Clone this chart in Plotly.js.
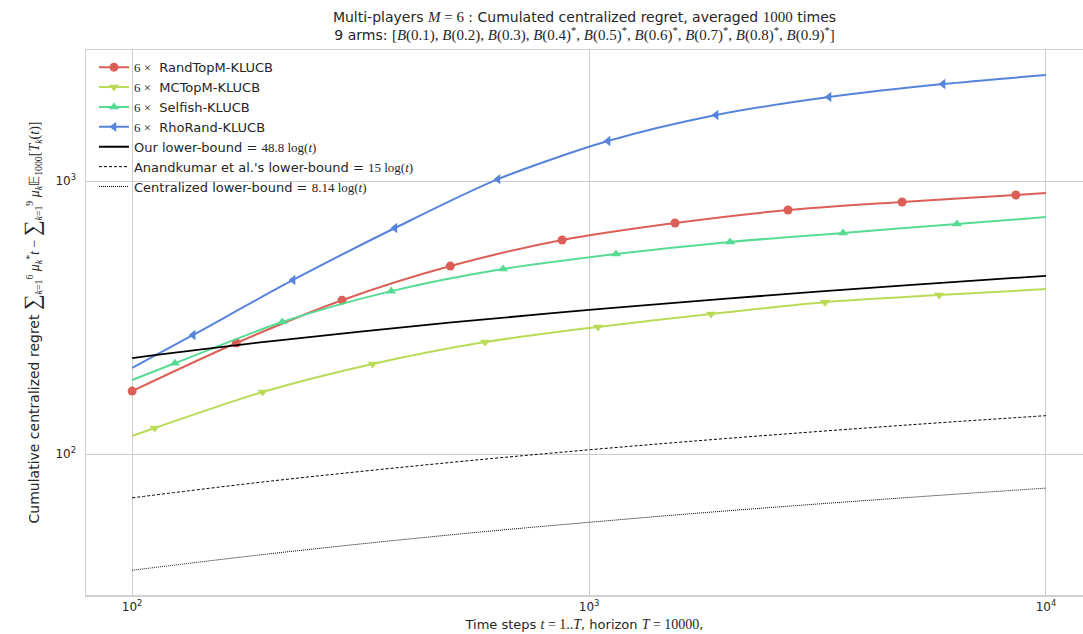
<!DOCTYPE html>
<html>
<head>
<meta charset="utf-8">
<script src="https://cdn.plot.ly/plotly-3.0.1.min.js"></script>
<style>html,body{margin:0;padding:0;background:#fff;}</style>
</head>
<body>
<div id="chart" style="width:1083px;height:634px;"></div>
<script>
// ---- data ----
// RandTopM-KLUCB
const tRand = [100, 169, 288, 497, 873, 1542, 2725, 4842, 8590, 10000];
const vRand = [170, 255, 366, 488, 608, 702, 783, 838, 889, 904];
const mRand = [0, 1, 2, 3, 4, 5, 6, 7, 8];
// MCTopM-KLUCB
const tMC = [100, 112, 193, 336, 592, 1046, 1849, 3284, 5837, 10000];
const vMC = [116.4, 124.5, 168.7, 213.7, 257, 292, 326, 360, 382, 402];
const mMC = [1, 2, 3, 4, 5, 6, 7, 8];
// Selfish-KLUCB
const tSelf = [100, 124, 213, 369, 648, 1145, 2035, 3596, 6383, 10000];
const vSelf = [186.6, 215, 304.5, 395, 476, 540, 598, 645, 696, 738];
const mSelf = [1, 2, 3, 4, 5, 6, 7, 8];
// RhoRand-KLUCB
const tRho = [100, 136, 225, 376, 632, 1100, 1897, 3351, 5953, 10000];
const vRho = [206.6, 273, 434, 673, 1016, 1401, 1745, 2031, 2266, 2444];
const mRho = [1, 2, 3, 4, 5, 6, 7, 8];
// lower bounds
const tBound = [100, 200, 500, 1000, 2000, 5000, 10000];
const vOurs = [224.7, 258.6, 303.3, 337.1, 370.9, 415.6, 449.5];
const vAnand = [69.1, 79.5, 93.2, 103.6, 114.0, 127.8, 138.2];
const vCentral = [37.5, 43.1, 50.6, 56.2, 61.9, 69.3, 75.0];

const xTickVals = [100, 1000, 10000];
const xTickText = ['10<sup>2</sup>', '10<sup>3</sup>', '10<sup>4</sup>'];
const yTickVals = [100, 1000];
const yTickText = ['10<sup>2</sup>', '10<sup>3</sup>'];

const names = ['RandTopM-KLUCB', 'MCTopM-KLUCB', 'Selfish-KLUCB', 'RhoRand-KLUCB'];
// ------------------------------------------------

const SERIF = "font-family:'Liberation Serif',serif";
const S = (s) => `<span style="${SERIF}">${s}</span>`;
const SB = (s, px) => `<span style="${SERIF};font-size:${px}px">${s}</span>`;

const series = [
  {t: tRand, v: vRand, m: mRand, color: '#db5f57', symbol: 'circle', size: 9},
  {t: tMC, v: vMC, m: mMC, color: '#b9db57', symbol: 'triangle-down', size: 9},
  {t: tSelf, v: vSelf, m: mSelf, color: '#57db94', symbol: 'triangle-up', size: 9},
  {t: tRho, v: vRho, m: mRho, color: '#5784db', symbol: 'triangle-left', size: 9}
];

const traces = [];
series.forEach((s, i) => {
  traces.push({
    x: s.t, y: s.v, type: 'scatter', mode: 'lines',
    line: {color: s.color, width: 2, shape: 'spline', smoothing: 0.8},
    showlegend: false, hoverinfo: 'skip', legendgroup: 'g' + i
  });
  traces.push({
    x: s.m.map(k => s.t[k]), y: s.m.map(k => s.v[k]), type: 'scatter', mode: 'markers',
    marker: {color: s.color, symbol: s.symbol, size: s.size, line: {width: 0}},
    showlegend: false, hoverinfo: 'skip', legendgroup: 'g' + i
  });
  traces.push({
    x: [null], y: [null], type: 'scatter', mode: 'lines+markers',
    line: {color: s.color, width: 2},
    marker: {color: s.color, symbol: s.symbol, size: s.size, line: {width: 0}},
    name: SB('6 ×', 13) + '  ' + names[i], legendgroup: 'g' + i
  });
});

traces.push({
  x: tBound, y: vOurs, type: 'scatter', mode: 'lines',
  line: {color: '#000000', width: 1.8, shape: 'spline'},
  name: 'Our lower-bound = ' + SB('48.8 log(<i>t</i>)', 13)
});
traces.push({
  x: tBound, y: vAnand, type: 'scatter', mode: 'lines',
  line: {color: '#000000', width: 1, dash: '3px,2px', shape: 'spline'},
  name: "Anandkumar et al.'s lower-bound = " + SB('15 log(<i>t</i>)', 13)
});
traces.push({
  x: tBound, y: vCentral, type: 'scatter', mode: 'lines',
  line: {color: '#000000', width: 1, dash: '1px,1px', shape: 'spline'},
  name: 'Centralized lower-bound = ' + SB('8.14 log(<i>t</i>)', 13)
});

const axisCommon = {
  type: 'log', showgrid: true, gridcolor: '#cccccc', gridwidth: 1,
  showline: true, mirror: true, linecolor: '#d0d0d0', linewidth: 1.5,
  zeroline: false, ticks: '', tickfont: {size: 12, color: '#262626'}
};

const layout = {
  width: 1083, height: 634,
  margin: {l: 86, r: 0, t: 50, b: 39},
  paper_bgcolor: '#ffffff', plot_bgcolor: '#ffffff',
  font: {family: "'DejaVu Sans', sans-serif", color: '#262626', size: 12},
  title: {
    text: 'Multi-players ' + SB('<i>M</i> = 6', 15) + ' : Cumulated centralized regret, averaged ' + SB('1000', 15) + ' times<br>' +
      '9 arms: ' + SB('[<i>B</i>(0.1), <i>B</i>(0.2), <i>B</i>(0.3), <i>B</i>(0.4)<sup>*</sup>, <i>B</i>(0.5)<sup>*</sup>, <i>B</i>(0.6)<sup>*</sup>, <i>B</i>(0.7)<sup>*</sup>, <i>B</i>(0.8)<sup>*</sup>, <i>B</i>(0.9)<sup>*</sup>]', 15),
    x: 0.5, xref: 'paper', xanchor: 'center',
    y: 0.965, yref: 'container', yanchor: 'top',
    font: {size: 14, color: '#262626'}
  },
  xaxis: Object.assign({}, axisCommon, {
    range: [1.899, 4.081],
    tickvals: xTickVals, ticktext: xTickText,
    title: {text: 'Time steps ' + SB('<i>t</i> = 1..<i>T</i>', 14) + ', horizon ' + SB('<i>T</i> = 10000', 14) + ',', font: {size: 13}, standoff: 7}
  }),
  yaxis: Object.assign({}, axisCommon, {
    range: [1.4835, 3.480],
    tickvals: yTickVals, ticktext: yTickText,
    ticklabelstandoff: 6,
    title: {
      text: 'Cumulative centralized regret ' + SB('∑', 22) + S('<sub><i>k</i>=1</sub><sup>6</sup> <i>μ</i><sub><i>k</i></sub><sup>*</sup><i>t</i> − ') + SB('∑', 22) + S('<sub><i>k</i>=1</sub><sup>9</sup> <i>μ</i><sub><i>k</i></sub>𝔼<sub>1000</sub>[<i>T</i><sub><i>k</i></sub>(<i>t</i>)]'),
      font: {size: 14}, standoff: 12
    }
  }),
  legend: {
    x: 0.008, y: 0.996, xanchor: 'left', yanchor: 'top',
    bgcolor: 'rgba(0,0,0,0)', borderwidth: 0,
    font: {size: 13, color: '#262626'}, tracegroupgap: 0
  },
  showlegend: true
};

Plotly.newPlot('chart', traces, layout, {displayModeBar: false, staticPlot: true});
</script>
</body>
</html>
